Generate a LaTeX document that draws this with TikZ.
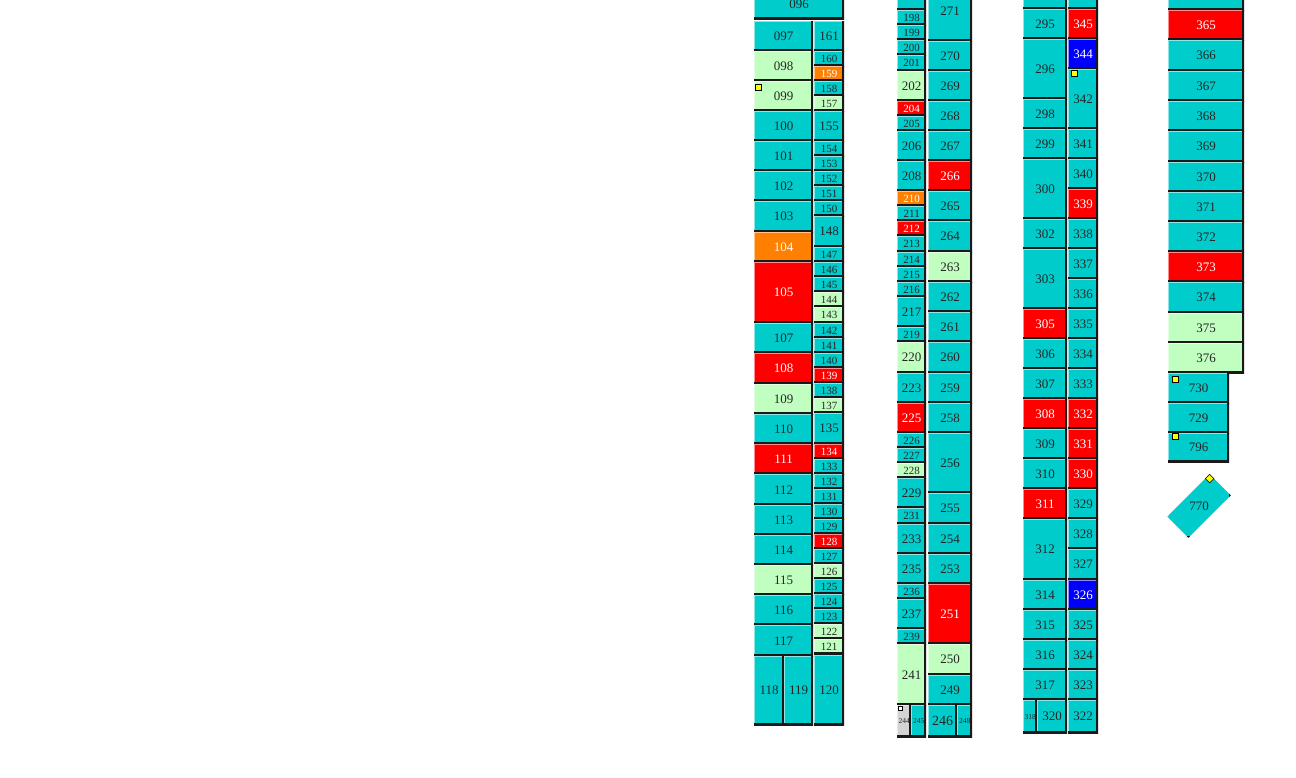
\documentclass[tikz,border=0pt]{standalone}
\usepackage{fontspec}
\setmainfont{Liberation Serif}
\definecolor{cellcyan}{RGB}{0,204,204}
\definecolor{cellred}{RGB}{255,0,0}
\definecolor{cellorange}{RGB}{255,128,0}
\definecolor{cellgreen}{RGB}{192,255,192}
\definecolor{cellblue}{RGB}{0,0,255}
\definecolor{cellgray}{RGB}{212,212,212}
\definecolor{flagyellow}{RGB}{255,255,0}
\tikzset{
  cell/.style={rectangle,inner sep=0pt,anchor=north west,font=\fontsize{13}{13}\selectfont,
    path picture={
      \draw[line width=2.4pt,white,opacity=0.55] (path picture bounding box.south west) -- (path picture bounding box.north west) -- (path picture bounding box.north east);
      \draw[line width=3.6pt,black!90] (path picture bounding box.north east) -- (path picture bounding box.south east) -- (path picture bounding box.south west);
    }},
  cy/.style={fill=cellcyan,text=black!85},
  rd/.style={fill=cellred,text=white},
  og/.style={fill=cellorange,text=white},
  lg/.style={fill=cellgreen,text=black!85},
  bl/.style={fill=cellblue,text=white},
  gy/.style={fill=cellgray,text=black!85},
  small/.style={font=\fontsize{11}{11}\selectfont},
  tiny/.style={font=\fontsize{7.5}{7.5}\selectfont},
  big/.style={font=\fontsize{14}{14}\selectfont},
  flag/.style={rectangle,draw=black,line width=0.6pt,fill=flagyellow,inner sep=0pt,minimum size=6pt,anchor=north west}
}

\begin{document}
\begin{tikzpicture}[x=1pt,y=-1pt,line cap=rect]
\useasboundingbox (0,0) rectangle (1296,777);
\fill[white] (0,0) rectangle (1296,777);

\node[cell,cy,minimum width=90,minimum height=30] (p096) at (754,-11) {096};
\node[cell,cy,minimum width=59,minimum height=30] (p097) at (754,21) {097};
\node[cell,lg,minimum width=59,minimum height=30] (p098) at (754,51) {098};
\node[cell,lg,minimum width=59,minimum height=30] (p099) at (754,81) {099};
\node[cell,cy,minimum width=59,minimum height=30] (p100) at (754,111) {100};
\node[cell,cy,minimum width=59,minimum height=30] (p101) at (754,141) {101};
\node[cell,cy,minimum width=59,minimum height=30] (p102) at (754,171) {102};
\node[cell,cy,minimum width=59,minimum height=31] (p103) at (754,201) {103};
\node[cell,og,minimum width=59,minimum height=30] (p104) at (754,232) {104};
\node[cell,rd,minimum width=59,minimum height=61] (p105) at (754,262) {105};
\node[cell,cy,minimum width=59,minimum height=30] (p107) at (754,323) {107};
\node[cell,rd,minimum width=59,minimum height=31] (p108) at (754,353) {108};
\node[cell,lg,minimum width=59,minimum height=30] (p109) at (754,384) {109};
\node[cell,cy,minimum width=59,minimum height=30] (p110) at (754,414) {110};
\node[cell,rd,minimum width=59,minimum height=30] (p111) at (754,444) {111};
\node[cell,cy,minimum width=59,minimum height=31] (p112) at (754,474) {112};
\node[cell,cy,minimum width=59,minimum height=30] (p113) at (754,505) {113};
\node[cell,cy,minimum width=59,minimum height=30] (p114) at (754,535) {114};
\node[cell,lg,minimum width=59,minimum height=30] (p115) at (754,565) {115};
\node[cell,cy,minimum width=59,minimum height=30] (p116) at (754,595) {116};
\node[cell,cy,minimum width=59,minimum height=31] (p117) at (754,625) {117};
\node[cell,cy,minimum width=30,minimum height=69] (p118) at (754,656) {118};
\node[cell,cy,minimum width=29,minimum height=69] (p119) at (784,656) {119};
\node[cell,cy,minimum width=30,minimum height=70] (p120) at (814,655) {120};
\node[cell,cy,minimum width=30,minimum height=30] (p161) at (814,21) {161};
\node[cell,cy,small,minimum width=30,minimum height=15] (p160) at (814,51) {160};
\node[cell,og,small,minimum width=30,minimum height=15] (p159) at (814,66) {159};
\node[cell,cy,small,minimum width=30,minimum height=15] (p158) at (814,81) {158};
\node[cell,lg,small,minimum width=30,minimum height=15] (p157) at (814,96) {157};
\node[cell,cy,minimum width=30,minimum height=30] (p155) at (814,111) {155};
\node[cell,cy,small,minimum width=30,minimum height=15] (p154) at (814,141) {154};
\node[cell,cy,small,minimum width=30,minimum height=15] (p153) at (814,156) {153};
\node[cell,cy,small,minimum width=30,minimum height=15] (p152) at (814,171) {152};
\node[cell,cy,small,minimum width=30,minimum height=15] (p151) at (814,186) {151};
\node[cell,cy,small,minimum width=30,minimum height=15] (p150) at (814,201) {150};
\node[cell,cy,minimum width=30,minimum height=31] (p148) at (814,216) {148};
\node[cell,cy,small,minimum width=30,minimum height=15] (p147) at (814,247) {147};
\node[cell,cy,small,minimum width=30,minimum height=15] (p146) at (814,262) {146};
\node[cell,cy,small,minimum width=30,minimum height=15] (p145) at (814,277) {145};
\node[cell,lg,small,minimum width=30,minimum height=15] (p144) at (814,292) {144};
\node[cell,lg,small,minimum width=30,minimum height=16] (p143) at (814,307) {143};
\node[cell,cy,small,minimum width=30,minimum height=15] (p142) at (814,323) {142};
\node[cell,cy,small,minimum width=30,minimum height=15] (p141) at (814,338) {141};
\node[cell,cy,small,minimum width=30,minimum height=15] (p140) at (814,353) {140};
\node[cell,rd,small,minimum width=30,minimum height=15] (p139) at (814,368) {139};
\node[cell,cy,small,minimum width=30,minimum height=15] (p138) at (814,383) {138};
\node[cell,lg,small,minimum width=30,minimum height=15] (p137) at (814,398) {137};
\node[cell,cy,minimum width=30,minimum height=31] (p135) at (814,413) {135};
\node[cell,rd,small,minimum width=30,minimum height=15] (p134) at (814,444) {134};
\node[cell,cy,small,minimum width=30,minimum height=15] (p133) at (814,459) {133};
\node[cell,cy,small,minimum width=30,minimum height=15] (p132) at (814,474) {132};
\node[cell,cy,small,minimum width=30,minimum height=15] (p131) at (814,489) {131};
\node[cell,cy,small,minimum width=30,minimum height=15] (p130) at (814,504) {130};
\node[cell,cy,small,minimum width=30,minimum height=15] (p129) at (814,519) {129};
\node[cell,rd,small,minimum width=30,minimum height=15] (p128) at (814,534) {128};
\node[cell,cy,small,minimum width=30,minimum height=15] (p127) at (814,549) {127};
\node[cell,lg,small,minimum width=30,minimum height=15] (p126) at (814,564) {126};
\node[cell,cy,small,minimum width=30,minimum height=15] (p125) at (814,579) {125};
\node[cell,cy,small,minimum width=30,minimum height=15] (p124) at (814,594) {124};
\node[cell,cy,small,minimum width=30,minimum height=15] (p123) at (814,609) {123};
\node[cell,lg,small,minimum width=30,minimum height=15] (p122) at (814,624) {122};
\node[cell,lg,small,minimum width=30,minimum height=15] (p121) at (814,639) {121};
\node[flag] (f099) at (755,84) {};

\node[cell,cy,small,minimum width=29,minimum height=15] (c2top) at (897,-5) {};
\node[cell,cy,small,minimum width=29,minimum height=15] (p198) at (897,10) {198};
\node[cell,cy,small,minimum width=29,minimum height=15] (p199) at (897,25) {199};
\node[cell,cy,small,minimum width=29,minimum height=15] (p200) at (897,40) {200};
\node[cell,cy,small,minimum width=29,minimum height=16] (p201) at (897,55) {201};
\node[cell,lg,minimum width=29,minimum height=30] (p202) at (897,71) {202};
\node[cell,rd,small,minimum width=29,minimum height=15] (p204) at (897,101) {204};
\node[cell,cy,small,minimum width=29,minimum height=15] (p205) at (897,116) {205};
\node[cell,cy,minimum width=29,minimum height=30] (p206) at (897,131) {206};
\node[cell,cy,minimum width=29,minimum height=30] (p208) at (897,161) {208};
\node[cell,og,small,minimum width=29,minimum height=15] (p210) at (897,191) {210};
\node[cell,cy,small,minimum width=29,minimum height=15] (p211) at (897,206) {211};
\node[cell,rd,small,minimum width=29,minimum height=15] (p212) at (897,221) {212};
\node[cell,cy,small,minimum width=29,minimum height=16] (p213) at (897,236) {213};
\node[cell,cy,small,minimum width=29,minimum height=15] (p214) at (897,252) {214};
\node[cell,cy,small,minimum width=29,minimum height=15] (p215) at (897,267) {215};
\node[cell,cy,small,minimum width=29,minimum height=15] (p216) at (897,282) {216};
\node[cell,cy,minimum width=29,minimum height=30] (p217) at (897,297) {217};
\node[cell,cy,small,minimum width=29,minimum height=15] (p219) at (897,327) {219};
\node[cell,lg,minimum width=29,minimum height=31] (p220) at (897,342) {220};
\node[cell,cy,minimum width=29,minimum height=30] (p223) at (897,373) {223};
\node[cell,rd,minimum width=29,minimum height=30] (p225) at (897,403) {225};
\node[cell,cy,small,minimum width=29,minimum height=15] (p226) at (897,433) {226};
\node[cell,cy,small,minimum width=29,minimum height=15] (p227) at (897,448) {227};
\node[cell,lg,small,minimum width=29,minimum height=15] (p228) at (897,463) {228};
\node[cell,cy,minimum width=29,minimum height=30] (p229) at (897,478) {229};
\node[cell,cy,small,minimum width=29,minimum height=16] (p231) at (897,508) {231};
\node[cell,cy,minimum width=29,minimum height=30] (p233) at (897,524) {233};
\node[cell,cy,minimum width=29,minimum height=30] (p235) at (897,554) {235};
\node[cell,cy,small,minimum width=29,minimum height=15] (p236) at (897,584) {236};
\node[cell,cy,minimum width=29,minimum height=30] (p237) at (897,599) {237};
\node[cell,cy,small,minimum width=29,minimum height=15] (p239) at (897,629) {239};
\node[cell,lg,minimum width=29,minimum height=61] (p241) at (897,644) {241};
\node[cell,gy,tiny,minimum width=14,minimum height=32] (p244) at (897,705) {244};
\node[cell,cy,tiny,minimum width=15,minimum height=32] (p245) at (911,705) {245};
\node[cell,cy,minimum width=44,minimum height=60] (p271) at (928,-19) {271};
\node[cell,cy,minimum width=44,minimum height=30] (p270) at (928,41) {270};
\node[cell,cy,minimum width=44,minimum height=30] (p269) at (928,71) {269};
\node[cell,cy,minimum width=44,minimum height=30] (p268) at (928,101) {268};
\node[cell,cy,minimum width=44,minimum height=30] (p267) at (928,131) {267};
\node[cell,rd,minimum width=44,minimum height=30] (p266) at (928,161) {266};
\node[cell,cy,minimum width=44,minimum height=30] (p265) at (928,191) {265};
\node[cell,cy,minimum width=44,minimum height=31] (p264) at (928,221) {264};
\node[cell,lg,minimum width=44,minimum height=30] (p263) at (928,252) {263};
\node[cell,cy,minimum width=44,minimum height=30] (p262) at (928,282) {262};
\node[cell,cy,minimum width=44,minimum height=30] (p261) at (928,312) {261};
\node[cell,cy,minimum width=44,minimum height=31] (p260) at (928,342) {260};
\node[cell,cy,minimum width=44,minimum height=30] (p259) at (928,373) {259};
\node[cell,cy,minimum width=44,minimum height=30] (p258) at (928,403) {258};
\node[cell,cy,minimum width=44,minimum height=60] (p256) at (928,433) {256};
\node[cell,cy,minimum width=44,minimum height=31] (p255) at (928,493) {255};
\node[cell,cy,minimum width=44,minimum height=30] (p254) at (928,524) {254};
\node[cell,cy,minimum width=44,minimum height=30] (p253) at (928,554) {253};
\node[cell,rd,minimum width=44,minimum height=60] (p251) at (928,584) {251};
\node[cell,lg,minimum width=44,minimum height=31] (p250) at (928,644) {250};
\node[cell,cy,minimum width=44,minimum height=30] (p249) at (928,675) {249};
\node[cell,cy,big,minimum width=29,minimum height=32] (p246) at (928,705) {246};
\node[cell,cy,tiny,minimum width=15,minimum height=32] (p248) at (957,705) {248};
\node[flag,fill=white,minimum size=4pt] (f244) at (898,706) {};

\node[cell,cy,minimum width=44,minimum height=30] (c3top) at (1023,-21) {};
\node[cell,cy,minimum width=44,minimum height=30] (p295) at (1023,9) {295};
\node[cell,cy,minimum width=44,minimum height=60] (p296) at (1023,39) {296};
\node[cell,cy,minimum width=44,minimum height=30] (p298) at (1023,99) {298};
\node[cell,cy,minimum width=44,minimum height=30] (p299) at (1023,129) {299};
\node[cell,cy,minimum width=44,minimum height=60] (p300) at (1023,159) {300};
\node[cell,cy,minimum width=44,minimum height=30] (p302) at (1023,219) {302};
\node[cell,cy,minimum width=44,minimum height=60] (p303) at (1023,249) {303};
\node[cell,rd,minimum width=44,minimum height=30] (p305) at (1023,309) {305};
\node[cell,cy,minimum width=44,minimum height=30] (p306) at (1023,339) {306};
\node[cell,cy,minimum width=44,minimum height=30] (p307) at (1023,369) {307};
\node[cell,rd,minimum width=44,minimum height=30] (p308) at (1023,399) {308};
\node[cell,cy,minimum width=44,minimum height=30] (p309) at (1023,429) {309};
\node[cell,cy,minimum width=44,minimum height=30] (p310) at (1023,459) {310};
\node[cell,rd,minimum width=44,minimum height=30] (p311) at (1023,489) {311};
\node[cell,cy,minimum width=44,minimum height=61] (p312) at (1023,519) {312};
\node[cell,cy,minimum width=44,minimum height=30] (p314) at (1023,580) {314};
\node[cell,cy,minimum width=44,minimum height=30] (p315) at (1023,610) {315};
\node[cell,cy,minimum width=44,minimum height=30] (p316) at (1023,640) {316};
\node[cell,cy,minimum width=44,minimum height=30] (p317) at (1023,670) {317};
\node[cell,cy,tiny,minimum width=14,minimum height=33] (p318) at (1023,700) {318};
\node[cell,cy,minimum width=30,minimum height=33] (p320) at (1037,700) {320};
\node[cell,cy,minimum width=30,minimum height=30] (c3topb) at (1068,-21) {};
\node[cell,rd,minimum width=30,minimum height=30] (p345) at (1068,9) {345};
\node[cell,bl,minimum width=30,minimum height=30] (p344) at (1068,39) {344};
\node[cell,cy,minimum width=30,minimum height=60] (p342) at (1068,69) {342};
\node[cell,cy,minimum width=30,minimum height=30] (p341) at (1068,129) {341};
\node[cell,cy,minimum width=30,minimum height=30] (p340) at (1068,159) {340};
\node[cell,rd,minimum width=30,minimum height=30] (p339) at (1068,189) {339};
\node[cell,cy,minimum width=30,minimum height=30] (p338) at (1068,219) {338};
\node[cell,cy,minimum width=30,minimum height=30] (p337) at (1068,249) {337};
\node[cell,cy,minimum width=30,minimum height=30] (p336) at (1068,279) {336};
\node[cell,cy,minimum width=30,minimum height=30] (p335) at (1068,309) {335};
\node[cell,cy,minimum width=30,minimum height=30] (p334) at (1068,339) {334};
\node[cell,cy,minimum width=30,minimum height=30] (p333) at (1068,369) {333};
\node[cell,rd,minimum width=30,minimum height=30] (p332) at (1068,399) {332};
\node[cell,rd,minimum width=30,minimum height=30] (p331) at (1068,429) {331};
\node[cell,rd,minimum width=30,minimum height=30] (p330) at (1068,459) {330};
\node[cell,cy,minimum width=30,minimum height=30] (p329) at (1068,489) {329};
\node[cell,cy,minimum width=30,minimum height=30] (p328) at (1068,519) {328};
\node[cell,cy,minimum width=30,minimum height=31] (p327) at (1068,549) {327};
\node[cell,bl,minimum width=30,minimum height=30] (p326) at (1068,580) {326};
\node[cell,cy,minimum width=30,minimum height=30] (p325) at (1068,610) {325};
\node[cell,cy,minimum width=30,minimum height=30] (p324) at (1068,640) {324};
\node[cell,cy,minimum width=30,minimum height=30] (p323) at (1068,670) {323};
\node[cell,cy,minimum width=30,minimum height=33] (p322) at (1068,700) {322};
\node[flag] (f342) at (1071,70) {};

\node[cell,cy,minimum width=76,minimum height=30] (c4top) at (1168,-20) {};
\node[cell,rd,minimum width=76,minimum height=30] (p365) at (1168,10) {365};
\node[cell,cy,minimum width=76,minimum height=31] (p366) at (1168,40) {366};
\node[cell,cy,minimum width=76,minimum height=30] (p367) at (1168,71) {367};
\node[cell,cy,minimum width=76,minimum height=30] (p368) at (1168,101) {368};
\node[cell,cy,minimum width=76,minimum height=31] (p369) at (1168,131) {369};
\node[cell,cy,minimum width=76,minimum height=30] (p370) at (1168,162) {370};
\node[cell,cy,minimum width=76,minimum height=30] (p371) at (1168,192) {371};
\node[cell,cy,minimum width=76,minimum height=30] (p372) at (1168,222) {372};
\node[cell,rd,minimum width=76,minimum height=30] (p373) at (1168,252) {373};
\node[cell,cy,minimum width=76,minimum height=31] (p374) at (1168,282) {374};
\node[cell,lg,minimum width=76,minimum height=30] (p375) at (1168,313) {375};
\node[cell,lg,minimum width=76,minimum height=30] (p376) at (1168,343) {376};
\node[cell,cy,minimum width=61,minimum height=30] (p730) at (1168,373) {730};
\node[cell,cy,minimum width=61,minimum height=30] (p729) at (1168,403) {729};
\node[cell,cy,minimum width=61,minimum height=29] (p796) at (1168,433) {796};
\node[flag] (f730) at (1172,376) {};
\node[flag] (f796) at (1172,433) {};
\node[cell,cy,minimum width=60,minimum height=30,anchor=center,rotate=45] (p770) at (1199,506) {};
\node[font=\fontsize{13}{13}\selectfont,text=black!85] (t770) at (p770.center) {770};
\node[flag,rotate=45,anchor=north east] (f770) at (p770.north east) {};
\end{tikzpicture}
\end{document}
